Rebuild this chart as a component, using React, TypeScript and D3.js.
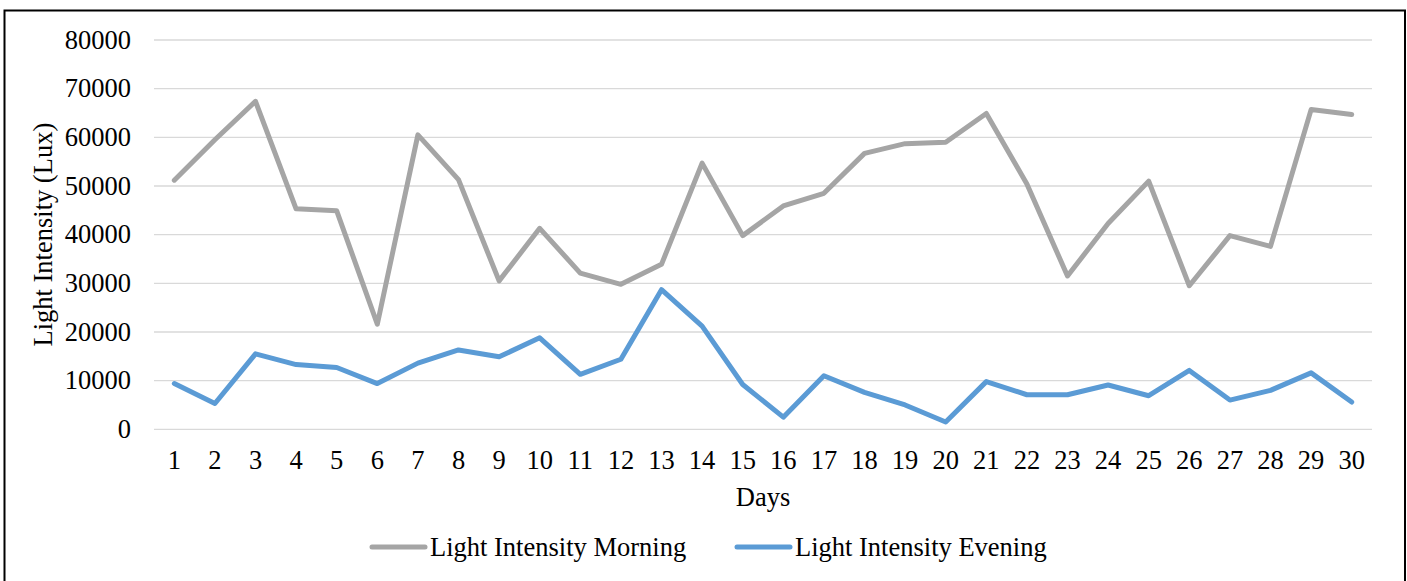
import React from "react";
import * as d3 from "d3";

const days: string[] = Array.from({ length: 30 }, (_, i) => String(i + 1));
const morning: number[] = [
  51200, 59500, 67400, 45300, 44900, 21600, 60500, 51300, 30500, 41300,
  32100, 29800, 33900, 54700, 39800, 45900, 48500, 56700, 58700, 59000,
  64900, 50400, 31500, 42300, 51000, 29500, 39800, 37600, 65700, 64700,
];
const evening: number[] = [
  9400, 5300, 15500, 13300, 12700, 9400, 13600, 16300, 14900, 18800,
  11300, 14400, 28700, 21200, 9200, 2500, 11000, 7600, 5000, 1500,
  9800, 7100, 7100, 9100, 6900, 12100, 6000, 8000, 11600, 5600,
];
const yTicks: number[] = [0, 10000, 20000, 30000, 40000, 50000, 60000, 70000, 80000];
const seriesNames: string[] = ["Light Intensity Morning", "Light Intensity Evening"];
const seriesColors: string[] = ["#A5A5A5", "#5B9BD5"];

export default function App() {
  const W = 1407;
  const H = 581;
  const left = 154;
  const right = 1372;
  const top = 40;
  const bottom = 429.3;
  const font = "'Liberation Serif', 'Times New Roman', serif";
  const fs = 26.5;

  const x = d3.scaleBand<string>().domain(days).range([left, right]);
  const cx = (d: string) => (x(d) as number) + x.bandwidth() / 2;
  const y = d3.scaleLinear().domain([0, 80000]).range([bottom, top]);

  const line = d3
    .line<number>()
    .x((_, i) => cx(days[i]))
    .y((v) => y(v));

  const allSeries = [morning, evening];

  return (
    <svg
      width={W}
      height={H}
      style={{ position: "absolute", left: 0, top: 0, display: "block", background: "#fff" }}
      fontFamily={font}
    >
      <rect x={0} y={0} width={W} height={H} fill="#fff" />
      <rect x={4.5} y={10.5} width={1400.5} height={H} fill="none" stroke="#000" strokeWidth={2} />
      {yTicks.map((t) => (
        <g key={t}>
          <line x1={left} x2={right} y1={y(t)} y2={y(t)} stroke="#D9D9D9" strokeWidth={1.3} />
          <text x={131} y={y(t)} dy="0.33em" textAnchor="end" fontSize={fs} fill="#000">
            {t}
          </text>
        </g>
      ))}
      {days.map((d) => (
        <text key={d} x={cx(d)} y={468.5} textAnchor="middle" fontSize={fs} fill="#000">
          {d}
        </text>
      ))}
      <text x={(left + right) / 2} y={506} textAnchor="middle" fontSize={fs} fill="#000">
        Days
      </text>
      <text
        transform={`translate(52, ${(top + bottom) / 2}) rotate(-90)`}
        textAnchor="middle"
        fontSize={fs}
        fill="#000"
      >
        Light Intensity (Lux)
      </text>
      {allSeries.map((s, i) => (
        <path
          key={i}
          d={line(s) || ""}
          fill="none"
          stroke={seriesColors[i]}
          strokeWidth={5}
          strokeLinejoin="round"
          strokeLinecap="round"
        />
      ))}
      {seriesNames.map((n, i) => {
        const lx = i === 0 ? 372 : 737;
        return (
          <g key={n}>
            <line x1={lx} x2={lx + 53} y1={547} y2={547} stroke={seriesColors[i]} strokeWidth={5} strokeLinecap="round" />
            <text x={lx + 58} y={556} fontSize={fs} fill="#000">
              {n}
            </text>
          </g>
        );
      })}
    </svg>
  );
}
